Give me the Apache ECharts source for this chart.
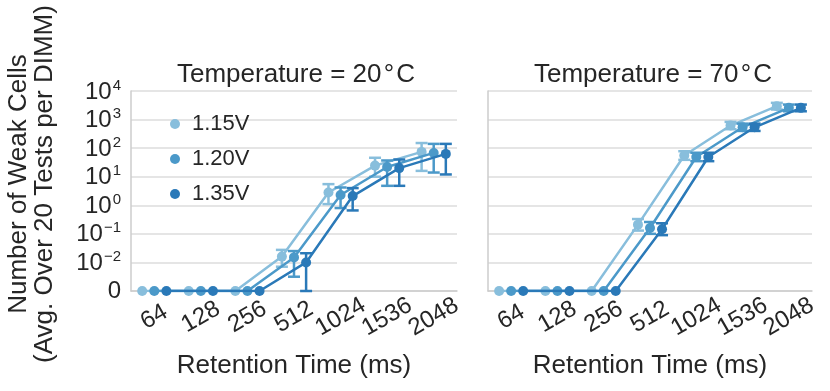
<!DOCTYPE html>
<html>
<head>
<meta charset="utf-8">
<script src="https://cdn.jsdelivr.net/npm/echarts@6/dist/echarts.min.js"></script>
<style>
  html, body { margin: 0; padding: 0; background: #fff; }
  #chart { width: 830px; height: 391px; }
</style>
</head>
<body>
<div id="chart"></div>
<script>
const retention = ['64', '128', '256', '512', '1024', '1536', '2048']
const voltages = ['1.15V', '1.20V', '1.35V']

// 20°C, mean and error bar ends (cells)
const mean20_115 = [0, 0, 0, 0.016, 2.8, 24.5, 74]
const mean20_120 = [0, 0, 0, 0.015, 2.3, 21.9, 68]
const mean20_135 = [0, 0, 0, 0.010, 2.1, 20, 63]
const lo20_115 = [0, 0, 0, 0.0085, 1.1, 10, 16]
const hi20_115 = [0, 0, 0, 0.0275, 5.5, 46, 151]
const lo20_120 = [0, 0, 0, 0.005, 0.8, 4.8, 14]
const hi20_120 = [0, 0, 0, 0.025, 4.2, 37, 141]
const lo20_135 = [0, 0, 0, 0, 0.66, 4.8, 12]
const hi20_135 = [0, 0, 0, 0.021, 4.0, 40, 141]

// 70°C
const mean70_115 = [0, 0, 0, 0.21, 55, 617, 2950]
const mean70_120 = [0, 0, 0, 0.16, 49, 537, 2570]
const mean70_135 = [0, 0, 0, 0.145, 49, 537, 2570]
const lo70_115 = [0, 0, 0, 0.13, 39, 460, 2250]
const hi70_115 = [0, 0, 0, 0.33, 78, 830, 3850]
const lo70_120 = [0, 0, 0, 0.10, 35, 400, 1950]
const hi70_120 = [0, 0, 0, 0.26, 69, 720, 3350]
const lo70_135 = [0, 0, 0, 0.09, 35, 400, 1950]
const hi70_135 = [0, 0, 0, 0.235, 69, 720, 3350]

const colors = ['#88bedc', '#4b99c9', '#2a79b8']
const dodge = [-0.26, 0, 0.26]
const font = 'Liberation Sans, Arial, sans-serif'
const ink = '#262626'

// symlog: linear below 1e-2, one decade wide
function sl(v) {
  if (v <= 0) return 0
  if (v < 0.01) return v * 100
  return Math.log10(v) + 3
}

function yLabel(t) {
  if (t === 0) return '{b|0}'
  const e = t - 3
  return '{b|10}{s|' + (e < 0 ? '\u2212' + (-e) : e) + '}'
}

function errRender(params, api) {
  const x = api.value(0)
  const a = api.coord([x, api.value(1)])
  const b = api.coord([x, api.value(2)])
  const c = api.visual('color')
  const st = { stroke: c, lineWidth: 2.5 }
  const w = 6
  return {
    type: 'group',
    children: [
      { type: 'line', shape: { x1: a[0], y1: a[1], x2: b[0], y2: b[1] }, style: st },
      { type: 'line', shape: { x1: a[0] - w, y1: a[1], x2: a[0] + w, y2: a[1] }, style: st },
      { type: 'line', shape: { x1: b[0] - w, y1: b[1], x2: b[0] + w, y2: b[1] }, style: st }
    ]
  }
}

const panels = [
  { means: [mean20_115, mean20_120, mean20_135], los: [lo20_115, lo20_120, lo20_135], his: [hi20_115, hi20_120, hi20_135] },
  { means: [mean70_115, mean70_120, mean70_135], los: [lo70_115, lo70_120, lo70_135], his: [hi70_115, hi70_120, hi70_135] }
]

const series = []
panels.forEach((p, pi) => {
  voltages.forEach((v, vi) => {
    series.push({
      name: v,
      type: 'line',
      xAxisIndex: pi * 2 + 1,
      yAxisIndex: pi,
      data: p.means[vi].map((m, i) => [i + dodge[vi], sl(m)]),
      symbol: 'circle',
      symbolSize: 10,
      color: colors[vi],
      lineStyle: { width: 2.5 },
      z: 3 + vi
    })
    series.push({
      type: 'custom',
      xAxisIndex: pi * 2 + 1,
      yAxisIndex: pi,
      renderItem: errRender,
      itemStyle: { color: colors[vi] },
      encode: { x: 0, y: [1, 2] },
      data: p.means[vi]
        .map((m, i) => [i + dodge[vi], sl(p.los[vi][i]), sl(p.his[vi][i])])
        .filter((d) => d[2] > 0),
      z: 3 + vi
    })
  })
})

const grids = [
  { left: 131, top: 91, width: 326, height: 200 },
  { left: 488, top: 91, width: 324, height: 200 }
]

const xAxes = []
const yAxes = []
grids.forEach((g, gi) => {
  xAxes.push({
    type: 'category',
    gridIndex: gi,
    data: retention,
    boundaryGap: true,
    axisLine: { show: true, lineStyle: { color: '#cccccc', width: 1.5 } },
    axisTick: { show: false },
    axisLabel: {
      rotate: 30, align: 'center', verticalAlign: 'middle', margin: 26,
      fontSize: 24, color: ink, fontFamily: font, interval: 0
    },
    name: 'Retention Time (ms)',
    nameLocation: 'middle',
    nameGap: 62,
    nameTextStyle: { fontSize: 26, color: ink, fontFamily: font }
  })
  xAxes.push({ type: 'value', gridIndex: gi, min: -0.5, max: 6.5, show: false })
  yAxes.push({
    type: 'value',
    gridIndex: gi,
    min: 0,
    max: 7,
    interval: 1,
    axisLine: { show: true, onZero: false, lineStyle: { color: '#cccccc', width: 1.5 } },
    axisTick: { show: false },
    splitLine: { show: true, lineStyle: { color: '#dddddd', width: 1.5 } },
    axisLabel: {
      show: gi === 0,
      margin: 10,
      formatter: (t) => yLabel(t),
      rich: {
        b: { fontSize: 24, color: ink, fontFamily: font, verticalAlign: 'bottom' },
        s: { fontSize: 15, color: ink, fontFamily: font, verticalAlign: 'bottom', padding: [0, 0, 11, 1] }
      }
    }
  })
})

const chart = echarts.init(document.getElementById('chart'))
chart.setOption({
  animation: false,
  backgroundColor: '#ffffff',
  title: [
    { text: 'Temperature = 20\u200a°\u200aC', left: 291, top: 57, textAlign: 'center',
      textStyle: { fontSize: 26, fontWeight: 'normal', color: ink, fontFamily: font } },
    { text: 'Temperature = 70\u200a°\u200aC', left: 648, top: 57, textAlign: 'center',
      textStyle: { fontSize: 26, fontWeight: 'normal', color: ink, fontFamily: font } }
  ],
  graphic: [{
    type: 'text',
    x: 32,
    y: 184,
    rotation: Math.PI / 2,
    style: {
      text: 'Number of Weak Cells\n(Avg. Over 20 Tests per DIMM)',
      fontSize: 26,
      lineHeight: 26,
      fill: ink,
      fontFamily: font,
      align: 'center',
      verticalAlign: 'middle'
    }
  }],
  legend: {
    data: voltages,
    orient: 'vertical',
    left: 165,
    top: 108,
    icon: 'circle',
    itemWidth: 10,
    itemHeight: 10,
    itemGap: 13,
    textStyle: { fontSize: 22, color: ink, fontFamily: font, padding: [0, 0, 0, 7] }
  },
  grid: grids,
  xAxis: xAxes,
  yAxis: yAxes,
  series: series
})
</script>
</body>
</html>
